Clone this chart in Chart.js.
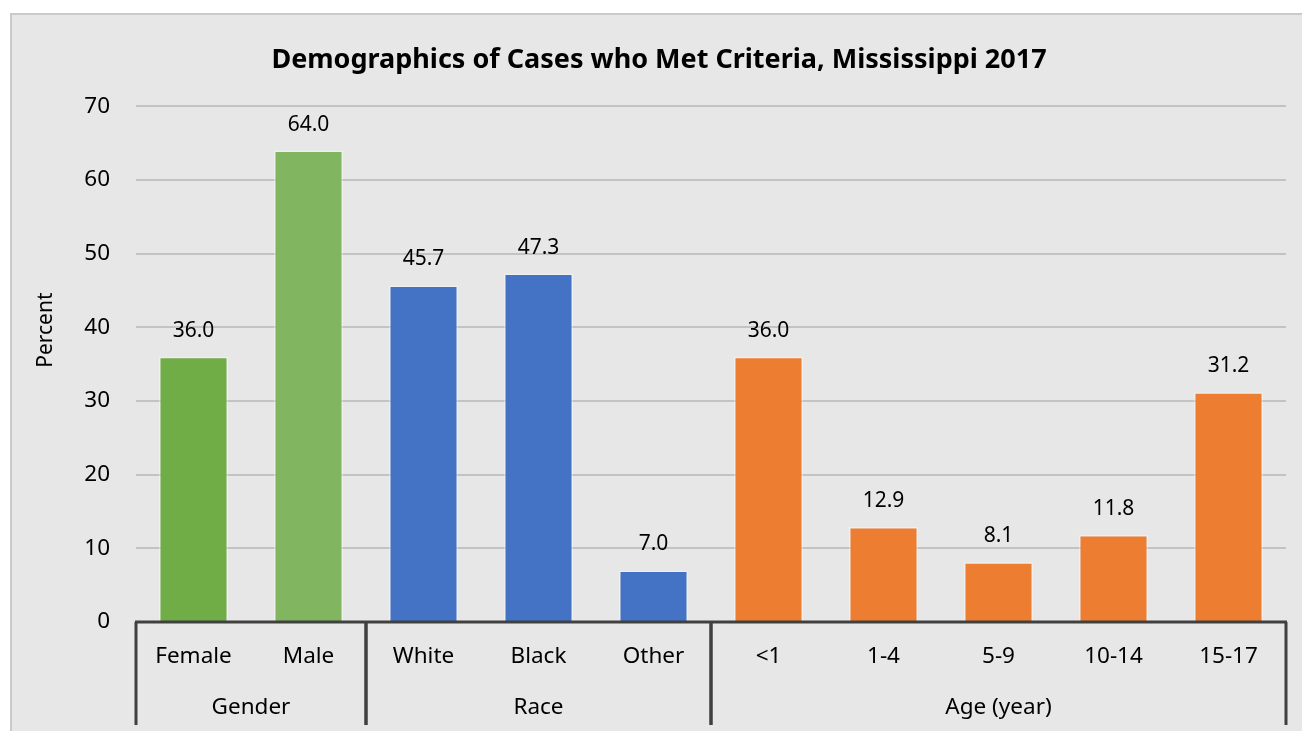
<!DOCTYPE html>
<html>
<head>
<meta charset="utf-8">
<script src="https://cdn.jsdelivr.net/npm/chart.js@4"></script>
<style>
  body { margin: 0; background: #ffffff; overflow: hidden; }
  #box {
    position: absolute; left: 10px; top: 13px;
    width: 1300px; height: 740px;
    background: #e7e7e7; border: 2px solid #cacaca;
    box-sizing: border-box;
  }
  canvas { display: block; }
</style>
</head>
<body>
<div id="box"><canvas id="chart" width="1296" height="736"></canvas></div>
<script>
'use strict';

// Chart data
var categories = ['Female', 'Male', 'White', 'Black', 'Other', '<1', '1-4', '5-9', '10-14', '15-17'];
var percents = [36.0, 64.0, 45.7, 47.3, 7.0, 36.0, 12.9, 8.1, 11.8, 31.2];
var barColors = ['#70ad47', '#82b55f', '#4472c4', '#4472c4', '#4472c4',
                 '#ed7d31', '#ed7d31', '#ed7d31', '#ed7d31', '#ed7d31'];
var groups = [
  { name: 'Gender', from: 0, to: 1 },
  { name: 'Race', from: 2, to: 4 },
  { name: 'Age (year)', from: 5, to: 9 }
];
var yTicks = [0, 10, 20, 30, 40, 50, 60, 70];

var FONT = '"Noto Sans", sans-serif';

/**
 * Value labels above each bar.
 */
var valueLabels = {
  id: 'valueLabels',
  afterDatasetsDraw: function(chart) {
    var ctx = chart.ctx;
    var meta = chart.getDatasetMeta(0);
    ctx.save();
    ctx.font = '21px ' + FONT;
    ctx.fillStyle = '#000';
    ctx.textAlign = 'center';
    ctx.textBaseline = 'middle';
    meta.data.forEach(function(bar, i) {
      ctx.fillText(percents[i].toFixed(1), bar.x, bar.y - 26);
    });
    ctx.restore();
  }
};

/**
 * Group separators, group names and the y axis title.
 */
var groupAxis = {
  id: 'groupAxis',
  afterDraw: function(chart) {
    var ctx = chart.ctx;
    var xs = chart.scales.x;
    var area = chart.chartArea;
    var half = (xs.getPixelForTick(1) - xs.getPixelForTick(0)) / 2;
    var bottom = area.bottom + 103;
    ctx.save();
    ctx.strokeStyle = '#404040';
    ctx.lineWidth = 3;
    // axis line
    ctx.beginPath();
    ctx.moveTo(area.left - 1, area.bottom);
    ctx.lineTo(area.right + 1, area.bottom);
    ctx.stroke();
    ctx.font = '22.5px ' + FONT;
    ctx.fillStyle = '#000';
    ctx.textAlign = 'center';
    ctx.textBaseline = 'middle';
    groups.forEach(function(g) {
      var left = xs.getPixelForTick(g.from) - half;
      var right = xs.getPixelForTick(g.to) + half;
      ctx.beginPath();
      ctx.moveTo(left, area.bottom);
      ctx.lineTo(left, bottom);
      ctx.moveTo(right, area.bottom);
      ctx.lineTo(right, bottom);
      ctx.stroke();
      ctx.fillText(g.name, (left + right) / 2, area.bottom + 86);
    });
    // y axis title
    ctx.font = '21px ' + FONT;
    ctx.translate(34, area.top + (area.bottom - area.top) * 0.434);
    ctx.rotate(-Math.PI / 2);
    ctx.fillText('Percent', 0, 0);
    ctx.restore();
  }
};

var ctx = document.getElementById('chart').getContext('2d');
var chart = new Chart(ctx, {
  type: 'bar',
  data: {
    labels: categories,
    datasets: [{
      data: percents,
      backgroundColor: barColors,
      borderColor: 'rgba(255,255,255,0.35)',
      borderWidth: 1.5,
      barPercentage: 0.6,
      categoryPercentage: 1.0
    }]
  },
  options: {
    responsive: false,
    animation: false,
    layout: { padding: { left: 20, right: 22, top: 0, bottom: 0 } },
    plugins: {
      legend: { display: false },
      tooltip: { enabled: false },
      title: {
        display: true,
        text: 'Demographics of Cases who Met Criteria, Mississippi 2017',
        color: '#000',
        font: { family: FONT, size: 27, weight: 'bold' },
        padding: { top: 29, bottom: 30 }
      }
    },
    scales: {
      x: {
        grid: { display: false, drawTicks: false },
        border: { display: false },
        ticks: {
          color: '#000',
          font: { family: FONT, size: 22.5 },
          padding: 21,
          maxRotation: 0,
          autoSkip: false
        },
        afterFit: function(scale) { scale.height = 129; }
      },
      y: {
        min: 0,
        max: 70,
        afterBuildTicks: function(scale) {
          scale.ticks = yTicks.map(function(v) { return { value: v }; });
        },
        grid: { color: '#c3c3c3', lineWidth: 2, drawTicks: false },
        border: { display: false },
        ticks: {
          color: '#000',
          font: { family: FONT, size: 22.5 },
          padding: 26
        },
        afterFit: function(scale) { scale.width = 104; }
      }
    }
  },
  plugins: [valueLabels, groupAxis]
});
</script>
</body>
</html>
